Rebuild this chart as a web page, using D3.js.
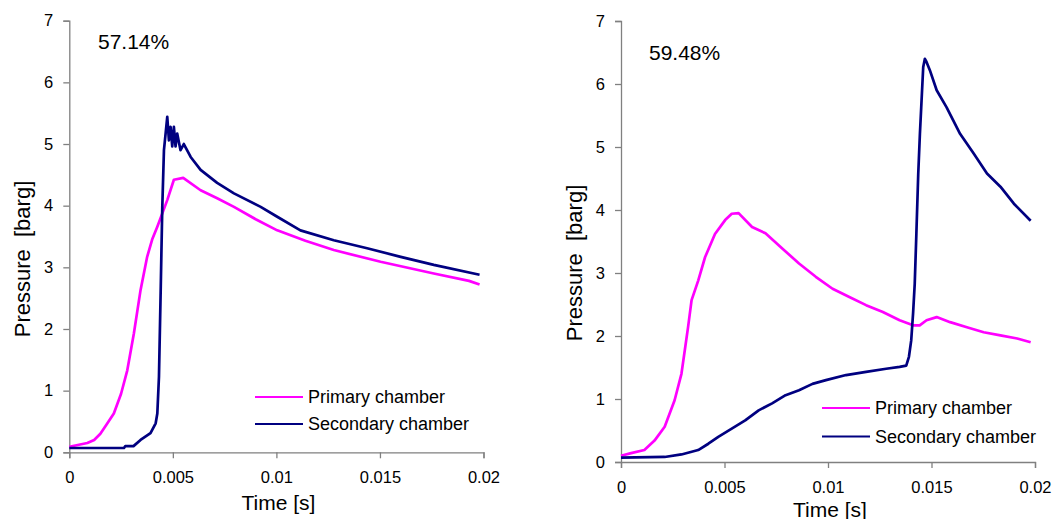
<!DOCTYPE html>
<html>
<head>
<meta charset="utf-8">
<script src="https://cdn.jsdelivr.net/npm/d3@7"></script>
<style>
  html, body { margin: 0; padding: 0; background: #fff; }
  svg { display: block; font-family: "Liberation Sans", Arial, sans-serif; }
</style>
</head>
<body>
<svg id="chart" width="1059" height="519"></svg>
<script>
// Pressure traces, two test runs; time in seconds, pressure in barg
const runLabels = ["57.14%", "59.48%"];
const seriesNames = ["Primary chamber", "Secondary chamber"];
const seriesColors = ["#ff00ff", "#000080"];
const timeTicks = [0, 0.005, 0.01, 0.015, 0.02];
const timeTickLabels = ["0", "0.005", "0.01", "0.015", "0.02"];
const pressureTicks = [0, 1, 2, 3, 4, 5, 6, 7];

// Run 1 (57.14%)
const run1PrimaryT = [0, 0.00087, 0.0012, 0.0015, 0.0018, 0.00215, 0.0025, 0.0028, 0.00312, 0.00344, 0.00376, 0.004, 0.00425, 0.00473, 0.00505, 0.0055, 0.00634, 0.00714, 0.00795, 0.009, 0.01004, 0.0114, 0.01277, 0.01503, 0.0176, 0.0193, 0.01981];
const run1PrimaryP = [0.09, 0.15, 0.2, 0.3, 0.45, 0.63, 0.95, 1.33, 1.93, 2.63, 3.17, 3.45, 3.66, 4.09, 4.42, 4.45, 4.25, 4.12, 3.98, 3.78, 3.6, 3.43, 3.28, 3.09, 2.9, 2.78, 2.72];
const run1SecondaryT = [0, 0.00264, 0.0027, 0.0031, 0.00344, 0.00392, 0.00417, 0.00425, 0.00433, 0.00441, 0.00449, 0.00457, 0.00465, 0.00473, 0.00481, 0.00489, 0.00497, 0.00505, 0.00513, 0.00521, 0.00537, 0.00553, 0.00586, 0.00634, 0.00714, 0.00795, 0.00924, 0.01004, 0.01116, 0.01277, 0.01438, 0.016, 0.0176, 0.01981];
const run1SecondaryP = [0.07, 0.07, 0.1, 0.1, 0.2, 0.31, 0.47, 0.63, 1.23, 2.58, 3.98, 4.9, 5.17, 5.44, 5.06, 5.28, 4.96, 5.28, 4.96, 5.17, 4.9, 5.0, 4.79, 4.58, 4.37, 4.2, 3.98, 3.82, 3.6, 3.44, 3.31, 3.17, 3.04, 2.88];

// Run 2 (59.48%)
const run2PrimaryT = [0, 0.00049, 0.00113, 0.00162, 0.00211, 0.00259, 0.00292, 0.00308, 0.00324, 0.00341, 0.00373, 0.00406, 0.00454, 0.00503, 0.00535, 0.00568, 0.00633, 0.00698, 0.00779, 0.0086, 0.00941, 0.01022, 0.01103, 0.01184, 0.01265, 0.01346, 0.01411, 0.01443, 0.01476, 0.01525, 0.0159, 0.01671, 0.01752, 0.01833, 0.01914, 0.01979];
const run2PrimaryP = [0.1, 0.14, 0.19, 0.34, 0.56, 0.98, 1.4, 1.77, 2.14, 2.57, 2.88, 3.25, 3.62, 3.84, 3.94, 3.95, 3.73, 3.63, 3.39, 3.15, 2.94, 2.75, 2.62, 2.49, 2.38, 2.25, 2.17, 2.17, 2.25, 2.3, 2.22, 2.14, 2.06, 2.01, 1.96, 1.9];
const run2SecondaryT = [0, 0.00211, 0.00292, 0.00373, 0.00422, 0.0047, 0.00535, 0.006, 0.00665, 0.0073, 0.00795, 0.0086, 0.00925, 0.0099, 0.01087, 0.01184, 0.01281, 0.01346, 0.01378, 0.01391, 0.01402, 0.01411, 0.01419, 0.01427, 0.01436, 0.01444, 0.01452, 0.0146, 0.01468, 0.01476, 0.01492, 0.01525, 0.01573, 0.01638, 0.01703, 0.01768, 0.01833, 0.01898, 0.01979];
const run2SecondaryP = [0.07, 0.08, 0.12, 0.19, 0.29, 0.4, 0.53, 0.66, 0.82, 0.93, 1.06, 1.14, 1.24, 1.3, 1.38, 1.43, 1.48, 1.51, 1.53, 1.67, 1.93, 2.36, 2.83, 3.63, 4.58, 5.21, 5.74, 6.27, 6.4, 6.35, 6.22, 5.9, 5.63, 5.21, 4.9, 4.58, 4.37, 4.1, 3.83];

const zip = (ts, ps) => ts.map((t, i) => ({ t, p: ps[i] }));

const panels = [
  {
    label: runLabels[0],
    series: [zip(run1PrimaryT, run1PrimaryP), zip(run1SecondaryT, run1SecondaryP)],
    x0: 69.3, x1: 483.5, yBottom: 452.3, yTop: 20.7,
    labelPos: [98, 49],
    yTitlePos: [22, 259], xTitleY: 503,
    legend: { x: 255, y: 397, gap: 27 }
  },
  {
    label: runLabels[1],
    series: [zip(run2PrimaryT, run2PrimaryP), zip(run2SecondaryT, run2SecondaryP)],
    x0: 621, x1: 1035, yBottom: 462, yTop: 21,
    labelPos: [649, 60],
    yTitlePos: [574, 263], xTitleY: 510,
    legend: { x: 822, y: 408, gap: 28.5 }
  }
];

const svg = d3.select("#chart");
const axisGrey = "#808080";

panels.forEach(cfg => {
  const x = d3.scaleLinear().domain([0, 0.02]).range([cfg.x0, cfg.x1]);
  const y = d3.scaleLinear().domain([0, 7]).range([cfg.yBottom, cfg.yTop]);
  const g = svg.append("g");

  // y axis
  const yAxis = g.append("g")
    .attr("transform", `translate(${cfg.x0},0)`)
    .call(d3.axisLeft(y).tickValues(pressureTicks).tickSize(6).tickPadding(10).tickFormat(d3.format("d")));
  // x axis
  const xAxis = g.append("g")
    .attr("transform", `translate(0,${cfg.yBottom})`)
    .call(d3.axisBottom(x).tickValues(timeTicks).tickSize(6).tickPadding(13)
      .tickFormat((d, i) => timeTickLabels[i]));

  [yAxis, xAxis].forEach(ax => {
    ax.select(".domain").attr("stroke", axisGrey).attr("stroke-width", 1.3);
    ax.selectAll(".tick line").attr("stroke", axisGrey).attr("stroke-width", 1.3);
    ax.selectAll(".tick text").attr("fill", "#000")
      .style("font-size", "16.5px").style("font-family", "Liberation Sans, Arial, sans-serif");
  });

  // data traces
  const line = d3.line().x(d => x(d.t)).y(d => y(d.p));
  cfg.series.forEach((s, i) => {
    g.append("path").datum(s)
      .attr("fill", "none")
      .attr("stroke", seriesColors[i])
      .attr("stroke-width", 2.7)
      .attr("stroke-linejoin", "round")
      .attr("d", line);
  });

  // run label
  g.append("text").attr("x", cfg.labelPos[0]).attr("y", cfg.labelPos[1])
    .style("font-size", "21px").text(cfg.label);

  // axis titles
  g.append("text")
    .attr("transform", `translate(${cfg.yTitlePos[0] + 8},${cfg.yTitlePos[1]}) rotate(-90)`)
    .attr("text-anchor", "middle")
    .style("font-size", "22px").style("white-space", "pre")
    .text("Pressure  [barg]");
  g.append("text")
    .attr("x", (cfg.x0 + cfg.x1) / 2 + 2).attr("y", cfg.xTitleY + 7)
    .attr("text-anchor", "middle")
    .style("font-size", "21px")
    .text("Time [s]");

  // legend
  seriesNames.forEach((name, i) => {
    const ly = cfg.legend.y + i * cfg.legend.gap;
    g.append("line")
      .attr("x1", cfg.legend.x).attr("x2", cfg.legend.x + 48)
      .attr("y1", ly).attr("y2", ly)
      .attr("stroke", seriesColors[i]).attr("stroke-width", 1.8);
    g.append("text")
      .attr("x", cfg.legend.x + 53).attr("y", ly + 6)
      .style("font-size", "18px")
      .text(name);
  });
});
</script>
</body>
</html>
